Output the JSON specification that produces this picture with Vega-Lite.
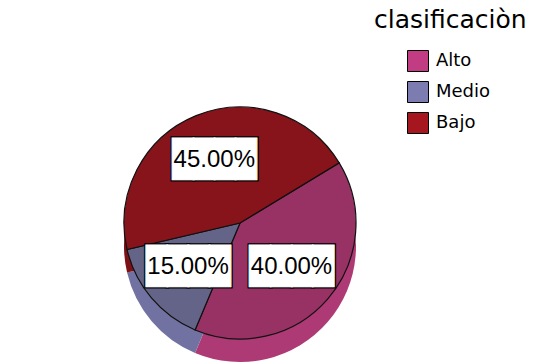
{
  "$schema": "https://vega.github.io/schema/vega-lite/v6.json",
  "width": 480,
  "height": 282,
  "autosize": {"type": "none"},
  "padding": {"left": 0, "top": 82, "right": 63, "bottom": 0},
  "background": "white",
  "config": {"view": {"stroke": null}},
  "data": {
    "values": [
      {"clasificacion": "Alto", "proporcion": 0.40, "orden": 1},
      {"clasificacion": "Medio", "proporcion": 0.15, "orden": 2},
      {"clasificacion": "Bajo", "proporcion": 0.45, "orden": 3}
    ]
  },
  "encoding": {
    "theta": {"field": "proporcion", "type": "quantitative", "stack": true, "scale": {"range": [1.026, 7.309]}},
    "order": {"field": "orden", "type": "quantitative", "sort": "ascending"}
  },
  "resolve": {"scale": {"color": "independent"}, "legend": {"color": "independent"}},
  "layer": [
    {
      "mark": {"type": "arc", "outerRadius": 116, "yOffset": 23},
      "encoding": {
        "color": {
          "field": "clasificacion", "type": "nominal",
          "scale": {"domain": ["Alto", "Medio", "Bajo"], "range": ["#ad3a74", "#7272a2", "#7c1116"]},
          "legend": null
        }
      }
    },
    {
      "mark": {"type": "arc", "outerRadius": 116, "stroke": "#111111", "strokeWidth": 1.2},
      "encoding": {
        "color": {
          "field": "clasificacion", "type": "nominal",
          "scale": {"domain": ["Alto", "Medio", "Bajo"], "range": ["#983264", "#646488", "#86141a"]},
          "legend": null
        }
      }
    },
    {
      "mark": {"type": "arc", "outerRadius": 0},
      "encoding": {
        "color": {
          "field": "clasificacion", "type": "nominal",
          "scale": {"domain": ["Alto", "Medio", "Bajo"], "range": ["#c13c82", "#7c7cb0", "#a5161e"]},
          "legend": {
            "title": "clasificaciòn",
            "orient": "none",
            "legendX": 374,
            "legendY": -74,
            "padding": 0,
            "titleFont": "DejaVu Sans",
            "titleFontSize": 25,
            "titleFontWeight": "normal",
            "titleColor": "black",
            "titlePadding": 17,
            "labelFont": "DejaVu Sans",
            "labelFontSize": 18,
            "labelColor": "black",
            "symbolType": "square",
            "symbolSize": 441,
            "symbolStrokeWidth": 1,
            "symbolStrokeColor": "black",
            "symbolOffset": 33,
            "labelOffset": 7,
            "rowPadding": 5
          }
        }
      }
    },
    {
      "mark": {"type": "text", "radius": 68, "text": "████", "font": "DejaVu Sans Mono", "fontSize": 35, "fill": "black", "stroke": "black", "strokeWidth": 3.5, "align": "center", "baseline": "middle"},
      "encoding": {"detail": {"field": "clasificacion", "type": "nominal"}}
    },
    {
      "mark": {"type": "text", "radius": 68, "text": "████", "font": "DejaVu Sans Mono", "fontSize": 35, "fill": "white", "stroke": "white", "strokeWidth": 1, "align": "center", "baseline": "middle"},
      "encoding": {"detail": {"field": "clasificacion", "type": "nominal"}}
    },
    {
      "mark": {"type": "text", "radius": 68, "font": "Liberation Sans", "fontSize": 24, "fill": "black", "align": "center", "baseline": "middle"},
      "encoding": {
        "detail": {"field": "clasificacion", "type": "nominal"},
        "text": {"field": "proporcion", "type": "quantitative", "format": ".2%"}
      }
    }
  ]
}
